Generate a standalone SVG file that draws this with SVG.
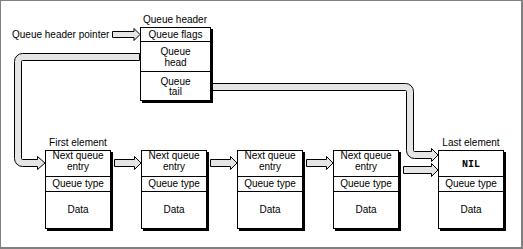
<svg xmlns="http://www.w3.org/2000/svg" width="523" height="249" viewBox="0 0 523 249">
<style>
text{font-family:"Liberation Sans",Arial,sans-serif;font-size:10px;fill:#000}
.c{text-anchor:middle}
.mono{font-family:"Liberation Mono","Courier New",monospace;font-size:10px;font-weight:bold}
.box{fill:#fff;stroke:#000;stroke-width:1}
.shadow{fill:#000;stroke:#000;stroke-width:1}
.div{stroke:#000;stroke-width:1;fill:none}
.arrow{fill:#e5e5e5;stroke:#000;stroke-width:1;stroke-linejoin:miter}
</style>
<rect width="523" height="249" fill="#fff"/>
<path d="M0,0H523V249H0Z M1,1V247H521V1Z" fill="#808080" fill-rule="evenodd"/>

<g id="connectors">
  <path class="arrow" d="M112.5,31.5H134V28.5L140,34.5L134,40.5V37.5H112.5Z"/>
  <path class="arrow" d="M139.5,53.5H22.5A8,8 0 0 0 14.5,61.5V158.5A8,8 0 0 0 22.5,166.5H37.5V169.5L45,163L37.5,156.5V159.5H22.5A1,1 0 0 1 21.5,158.5V61.5A1,1 0 0 1 22.5,60.5H139.5Z"/>
  <path class="arrow" d="M212.5,83.5H405.5A8,8 0 0 1 413.5,91.5V150.5A1,1 0 0 0 414.5,151.5H431.5V148.5L438,155L431.5,161.5V158.5H414.5A8,8 0 0 1 406.5,150.5V91.5A1,1 0 0 0 405.5,90.5H212.5Z"/>
  <path class="arrow" d="M114.5,159.5H134.5V156.5L141,163L134.5,169.5V166.5H114.5Z"/>
  <path class="arrow" d="M210.5,159.5H230.5V156.5L237,163L230.5,169.5V166.5H210.5Z"/>
  <path class="arrow" d="M306.5,159.5H326.5V156.5L333,163L326.5,169.5V166.5H306.5Z"/>
  <path class="arrow" d="M403.5,166.5H431.5V163.5L438,170L431.5,176.5V173.5H403.5Z"/>
</g>

<g id="pointer-label">
  <text x="12" y="37.5">Queue header pointer</text>
</g>

<g id="queue-header">
  <text class="c" x="175" y="23">Queue header</text>
  <rect class="shadow" x="142.5" y="29.5" width="70" height="73"/>
  <rect class="box" x="140.5" y="27.5" width="70" height="73"/>
  <line class="div" x1="140.5" y1="41.5" x2="210.5" y2="41.5"/>
  <line class="div" x1="140.5" y1="71.5" x2="210.5" y2="71.5"/>
  <text class="c" x="175.5" y="37.5">Queue flags</text>
  <text class="c" x="175.5" y="55">Queue</text>
  <text class="c" x="175.5" y="66">head</text>
  <text class="c" x="175.5" y="84.5">Queue</text>
  <text class="c" x="175.5" y="94.5">tail</text>
</g>

<g id="first-element">
  <text class="c" x="78" y="146">First element</text>
  <rect class="shadow" x="47.5" y="152.5" width="65" height="78"/>
  <rect class="box" x="45.5" y="150.5" width="65" height="78"/>
  <line class="div" x1="45.5" y1="176.5" x2="110.5" y2="176.5"/>
  <line class="div" x1="45.5" y1="191.5" x2="110.5" y2="191.5"/>
  <text class="c" x="78" y="159">Next queue</text>
  <text class="c" x="78" y="170">entry</text>
  <text class="c" x="78" y="187">Queue type</text>
  <text class="c" x="78" y="213">Data</text>
</g>

<g id="element-2">
  <rect class="shadow" x="143.5" y="152.5" width="65" height="78"/>
  <rect class="box" x="141.5" y="150.5" width="65" height="78"/>
  <line class="div" x1="141.5" y1="176.5" x2="206.5" y2="176.5"/>
  <line class="div" x1="141.5" y1="191.5" x2="206.5" y2="191.5"/>
  <text class="c" x="174" y="159">Next queue</text>
  <text class="c" x="174" y="170">entry</text>
  <text class="c" x="174" y="187">Queue type</text>
  <text class="c" x="174" y="213">Data</text>
</g>

<g id="element-3">
  <rect class="shadow" x="239.5" y="152.5" width="65" height="78"/>
  <rect class="box" x="237.5" y="150.5" width="65" height="78"/>
  <line class="div" x1="237.5" y1="176.5" x2="302.5" y2="176.5"/>
  <line class="div" x1="237.5" y1="191.5" x2="302.5" y2="191.5"/>
  <text class="c" x="270" y="159">Next queue</text>
  <text class="c" x="270" y="170">entry</text>
  <text class="c" x="270" y="187">Queue type</text>
  <text class="c" x="270" y="213">Data</text>
</g>

<g id="element-4">
  <rect class="shadow" x="335.5" y="152.5" width="65" height="78"/>
  <rect class="box" x="333.5" y="150.5" width="65" height="78"/>
  <line class="div" x1="333.5" y1="176.5" x2="398.5" y2="176.5"/>
  <line class="div" x1="333.5" y1="191.5" x2="398.5" y2="191.5"/>
  <text class="c" x="366" y="159">Next queue</text>
  <text class="c" x="366" y="170">entry</text>
  <text class="c" x="366" y="187">Queue type</text>
  <text class="c" x="366" y="213">Data</text>
</g>

<g id="last-element">
  <text class="c" x="471" y="146">Last element</text>
  <rect class="shadow" x="440.5" y="152.5" width="65" height="78"/>
  <rect class="box" x="438.5" y="150.5" width="65" height="78"/>
  <line class="div" x1="438.5" y1="176.5" x2="503.5" y2="176.5"/>
  <line class="div" x1="438.5" y1="191.5" x2="503.5" y2="191.5"/>
  <text class="c mono" x="471" y="167">NIL</text>
  <text class="c" x="471" y="187">Queue type</text>
  <text class="c" x="471" y="213">Data</text>
</g>
</svg>
